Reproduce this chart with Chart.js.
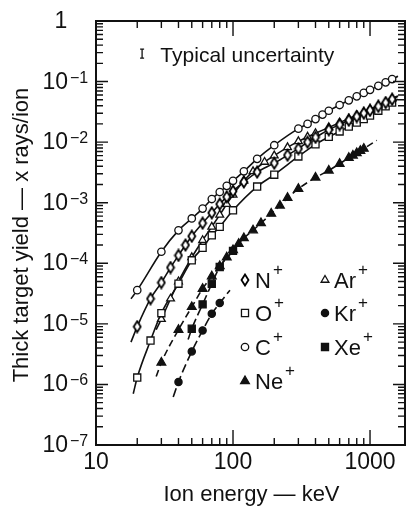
<!DOCTYPE html>
<html>
<head>
<meta charset="utf-8">
<script src="https://cdn.jsdelivr.net/npm/chart.js@4.4.1/dist/chart.umd.min.js"></script>
<style>
  html, body { margin: 0; padding: 0; background: #fff; }
  #wrap { width: 412px; height: 506px; }
</style>
</head>
<body>
<div id="wrap"><canvas id="yieldChart" width="412" height="506"></canvas></div>
<script>
const INK = '#111';
const FONT = '"Liberation Sans", "DejaVu Sans", Arial, sans-serif';

// ion energy (keV) and thick target yield (x rays / ion)
const cEnergy = [20, 30, 40, 50, 60, 70, 80, 90, 100, 120, 150, 200, 300, 350, 400, 450, 500, 600, 700, 800, 900, 1000, 1150, 1300, 1450];
const cYield = [3.6e-5, 1.55e-4, 3.5e-4, 5.5e-4, 8.0e-4, 1.15e-3, 1.5e-3, 1.9e-3, 2.3e-3, 3.3e-3, 5.3e-3, 8.9e-3, 1.67e-2, 2.0e-2, 2.4e-2, 2.85e-2, 3.3e-2, 4.1e-2, 4.9e-2, 5.7e-2, 6.5e-2, 7.3e-2, 8.5e-2, 9.7e-2, 0.11];
const cLineEnds = [[18, 2.6e-5], [1600, 0.122]];

const nEnergy = [20, 25, 30, 35, 40, 45, 50, 60, 70, 80, 90, 100, 120, 150, 200, 250, 300, 350, 400, 500, 600, 700, 800, 900, 1000, 1150, 1300, 1450];
const nYield = [9e-6, 2.6e-5, 4.8e-5, 8.5e-5, 1.35e-4, 2.0e-4, 2.8e-4, 4.6e-4, 6.8e-4, 9.5e-4, 1.25e-3, 1.55e-3, 2.2e-3, 3.2e-3, 4.5e-3, 6.1e-3, 7.8e-3, 1.0e-2, 1.2e-2, 1.6e-2, 1.95e-2, 2.3e-2, 2.65e-2, 3.0e-2, 3.35e-2, 3.9e-2, 4.5e-2, 5.1e-2];
const nLineEnds = [[18, 5e-6], [1600, 5.7e-2]];

const oEnergy = [20, 25, 30, 40, 50, 60, 70, 80, 100, 150, 200, 300, 400, 500, 600, 700, 800, 900, 1000, 1150, 1300, 1450];
const oYield = [1.3e-6, 5.3e-6, 1.5e-5, 4.6e-5, 1.12e-4, 1.8e-4, 2.9e-4, 4.0e-4, 7.5e-4, 1.85e-3, 2.9e-3, 5.8e-3, 9.2e-3, 1.22e-2, 1.5e-2, 1.8e-2, 2.1e-2, 2.4e-2, 2.75e-2, 3.3e-2, 3.9e-2, 4.5e-2];
const oLineEnds = [[18.7, 7e-7], [1600, 5.1e-2]];

const arEnergy = [30, 35, 40, 50, 60, 70, 80, 90, 100, 120, 140, 170, 200, 250, 300, 350, 400, 500, 600, 700, 800, 900, 1000, 1150, 1300, 1450];
const arYield = [1.2e-5, 2.6e-5, 5.0e-5, 1.25e-4, 2.4e-4, 4.0e-4, 6.3e-4, 9.5e-4, 1.35e-3, 2.3e-3, 3.3e-3, 4.7e-3, 6.0e-3, 8.2e-3, 1.03e-2, 1.22e-2, 1.4e-2, 1.75e-2, 2.1e-2, 2.45e-2, 2.8e-2, 3.15e-2, 3.5e-2, 4.05e-2, 4.6e-2, 5.25e-2];
const arLineEnds = [[27.5, 8e-6], [1600, 5.8e-2]];

const neEnergy = [30, 40, 50, 60, 70, 80, 90, 100, 110, 120, 140, 160, 190, 220, 250, 300, 400, 500, 600, 700, 750, 800, 850, 900];
const neYield = [2.3e-6, 8.0e-6, 1.9e-5, 3.8e-5, 6.1e-5, 9.0e-5, 1.25e-4, 1.65e-4, 2.1e-4, 2.6e-4, 3.5e-4, 4.6e-4, 6.6e-4, 9.0e-4, 1.2e-3, 1.7e-3, 2.6e-3, 3.4e-3, 4.4e-3, 5.5e-3, 6.0e-3, 6.6e-3, 7.2e-3, 7.8e-3];
const neLineEnds = [[27.5, 1.35e-6], [1120, 1.07e-2]];

const krEnergy = [40, 50, 60, 70, 80];
const krYield = [1.1e-6, 3.5e-6, 7.8e-6, 1.47e-5, 2.2e-5];
const krLineEnds = [[36.6, 6.2e-7], [95, 3.6e-5]];

const xeEnergy = [50, 60, 70, 80, 100];
const xeYield = [8.3e-6, 2.1e-5, 4.6e-5, 8.7e-5, 1.6e-4];
const xeLineEnds = [[47, 5.5e-6], [105, 1.9e-4]];

const xTickLabels = ['10', '100', '1000'];
const yTickExponents = [0, -1, -2, -3, -4, -5, -6, -7];
const legendCol1 = ['N', 'O', 'C', 'Ne'];
const legendCol2 = ['Ar', 'Kr', 'Xe'];

// tall open diamond used for N+
function diamondCanvas(w, h) {
  const c = document.createElement('canvas');
  c.width = w + 3;
  c.height = h + 3;
  const g = c.getContext('2d');
  g.beginPath();
  g.moveTo(c.width / 2, 1.5);
  g.lineTo(c.width - 1.5, c.height / 2);
  g.lineTo(c.width / 2, c.height - 1.5);
  g.lineTo(1.5, c.height / 2);
  g.closePath();
  g.fillStyle = '#fff';
  g.fill();
  g.lineWidth = 1.8;
  g.strokeStyle = '#000';
  g.stroke();
  return c;
}
const diamond = diamondCanvas(7, 11);

const series = {
  C: { energy: cEnergy, yield: cYield, ends: cLineEnds, style: 'circle', radius: 3.7, fill: '#fff', dash: [] },
  N: { energy: nEnergy, yield: nYield, ends: nLineEnds, style: diamond, radius: 5, fill: '#fff', dash: [] },
  O: { energy: oEnergy, yield: oYield, ends: oLineEnds, style: 'rect', radius: 5, fill: '#fff', dash: [] },
  Ar: { energy: arEnergy, yield: arYield, ends: arLineEnds, style: 'triangle', radius: 4.5, fill: '#fff', dash: [] },
  Ne: { energy: neEnergy, yield: neYield, ends: neLineEnds, style: 'triangle', radius: 5, fill: INK, dash: [7, 4] },
  Kr: { energy: krEnergy, yield: krYield, ends: krLineEnds, style: 'circle', radius: 3.6, fill: INK, dash: [9, 4] },
  Xe: { energy: xeEnergy, yield: xeYield, ends: xeLineEnds, style: 'rect', radius: 5, fill: INK, dash: [9, 4] }
};

function toPoints(xs, ys) {
  return xs.map((x, i) => ({ x: x, y: ys[i] }));
}

const datasets = [];
Object.keys(series).forEach(name => {
  const s = series[name];
  const pts = toPoints(s.energy, s.yield);
  datasets.push({
    label: name + '+ fit',
    data: [{ x: s.ends[0][0], y: s.ends[0][1] }, ...pts, { x: s.ends[1][0], y: s.ends[1][1] }],
    showLine: true,
    borderColor: INK,
    borderWidth: 1.6,
    borderDash: s.dash,
    cubicInterpolationMode: 'monotone',
    pointRadius: 0,
    order: 1
  });
  datasets.push({
    label: name + '+',
    data: pts,
    showLine: false,
    pointStyle: s.style,
    pointRadius: s.radius,
    pointBackgroundColor: s.fill,
    pointBorderColor: INK,
    pointBorderWidth: 1.3,
    order: 0
  });
});

function drawMarker(ctx, s, x, y) {
  ctx.save();
  ctx.fillStyle = s.fill;
  ctx.strokeStyle = INK;
  ctx.lineWidth = 1.3;
  Chart.helpers.drawPoint(ctx, { pointStyle: s.style, radius: s.radius, rotation: 0, borderWidth: 1.3 }, Math.round(x), Math.round(y));
  ctx.restore();
}

function drawIon(ctx, name, x, y) {
  ctx.font = '22px ' + FONT;
  ctx.textAlign = 'left';
  ctx.textBaseline = 'alphabetic';
  ctx.fillText(name, x, y + 8);
  const w = ctx.measureText(name).width;
  ctx.font = '17px ' + FONT;
  ctx.fillText('+', x + w + 2, y - 5);
}

const framePlugin = {
  id: 'frame',
  afterDraw(chart) {
    const ctx = chart.ctx;
    const a = chart.chartArea;
    const xs = chart.scales.x;
    const ys = chart.scales.y;
    ctx.save();
    ctx.strokeStyle = INK;
    ctx.fillStyle = INK;

    // frame
    ctx.lineWidth = 2;
    ctx.strokeRect(a.left, a.top, a.right - a.left, a.bottom - a.top);

    // inward ticks on all four sides
    ctx.lineWidth = 1.4;
    ctx.beginPath();
    for (let d = 1; d <= 3; d++) {
      for (let m = 1; m <= 9; m++) {
        const v = m * Math.pow(10, d);
        if (v <= xs.min || v >= xs.max) continue;
        const px = xs.getPixelForValue(v);
        const len = m === 1 ? 15 : 7;
        ctx.moveTo(px, a.bottom);
        ctx.lineTo(px, a.bottom - len);
        ctx.moveTo(px, a.top);
        ctx.lineTo(px, a.top + len);
      }
    }
    for (let d = -7; d <= 0; d++) {
      for (let m = 1; m <= 9; m++) {
        const v = m * Math.pow(10, d);
        if (v <= ys.min * 0.999 || v >= ys.max * 1.001) continue;
        const py = ys.getPixelForValue(v);
        const len = m === 1 ? 12 : 7;
        ctx.moveTo(a.left, py);
        ctx.lineTo(a.left + len, py);
        ctx.moveTo(a.right, py);
        ctx.lineTo(a.right - len, py);
      }
    }
    ctx.stroke();

    // x tick labels
    ctx.font = '23px ' + FONT;
    ctx.textAlign = 'center';
    ctx.textBaseline = 'alphabetic';
    xTickLabels.forEach(t => {
      ctx.fillText(t, xs.getPixelForValue(Number(t)), a.bottom + 24);
    });

    // y tick labels with superscript exponents
    yTickExponents.forEach(e => {
      const py = ys.getPixelForValue(Math.pow(10, e));
      if (e === 0) {
        ctx.font = '23px ' + FONT;
        ctx.textAlign = 'center';
        ctx.fillText('1', 61, py + 7);
        return;
      }
      ctx.font = '23px ' + FONT;
      ctx.textAlign = 'right';
      ctx.fillText('10', 68, py + 7);
      ctx.font = '16px ' + FONT;
      ctx.textAlign = 'left';
      ctx.fillText('\u2212' + Math.abs(e), 70, py + 1);
    });

    // axis titles
    ctx.font = '22px ' + FONT;
    ctx.textAlign = 'center';
    ctx.fillText('Ion energy \u2014 keV', (a.left + a.right) / 2 + 1, 501);
    ctx.save();
    ctx.translate(28, 235);
    ctx.rotate(-Math.PI / 2);
    ctx.fillText('Thick target yield \u2014 x rays/ion', 0, 0);
    ctx.restore();

    // typical uncertainty note
    const ex = xs.getPixelForValue(21.7);
    const ey = ys.getPixelForValue(0.29);
    ctx.lineWidth = 1.3;
    ctx.beginPath();
    ctx.moveTo(ex, ey - 4.5);
    ctx.lineTo(ex, ey + 4.5);
    ctx.moveTo(ex - 2, ey - 4.5);
    ctx.lineTo(ex + 2, ey - 4.5);
    ctx.moveTo(ex - 2, ey + 4.5);
    ctx.lineTo(ex + 2, ey + 4.5);
    ctx.stroke();
    ctx.font = '21px ' + FONT;
    ctx.textAlign = 'left';
    ctx.fillText('Typical uncertainty', xs.getPixelForValue(29.5), ey + 8);

    // legend
    const rows = [280, 313, 347, 381];
    legendCol1.forEach((name, i) => {
      drawMarker(ctx, series[name], 245, rows[i]);
      drawIon(ctx, name, 255, rows[i]);
    });
    legendCol2.forEach((name, i) => {
      drawMarker(ctx, series[name], 325, rows[i]);
      drawIon(ctx, name, 334, rows[i]);
    });

    ctx.restore();
  }
};

new Chart(document.getElementById('yieldChart').getContext('2d'), {
  type: 'scatter',
  data: { datasets: datasets },
  options: {
    responsive: false,
    animation: false,
    devicePixelRatio: 1,
    layout: { padding: { left: 0, top: 21, right: 7, bottom: 0 } },
    scales: {
      x: {
        type: 'logarithmic',
        min: 10,
        max: 1800,
        grid: { display: false },
        border: { display: false },
        ticks: { display: false },
        afterFit: s => { s.height = 61; }
      },
      y: {
        type: 'logarithmic',
        min: 1e-7,
        max: 1,
        grid: { display: false },
        border: { display: false },
        ticks: { display: false },
        afterFit: s => { s.width = 96; }
      }
    },
    plugins: {
      legend: { display: false },
      tooltip: { enabled: false }
    }
  },
  plugins: [framePlugin]
});
</script>
</body>
</html>
